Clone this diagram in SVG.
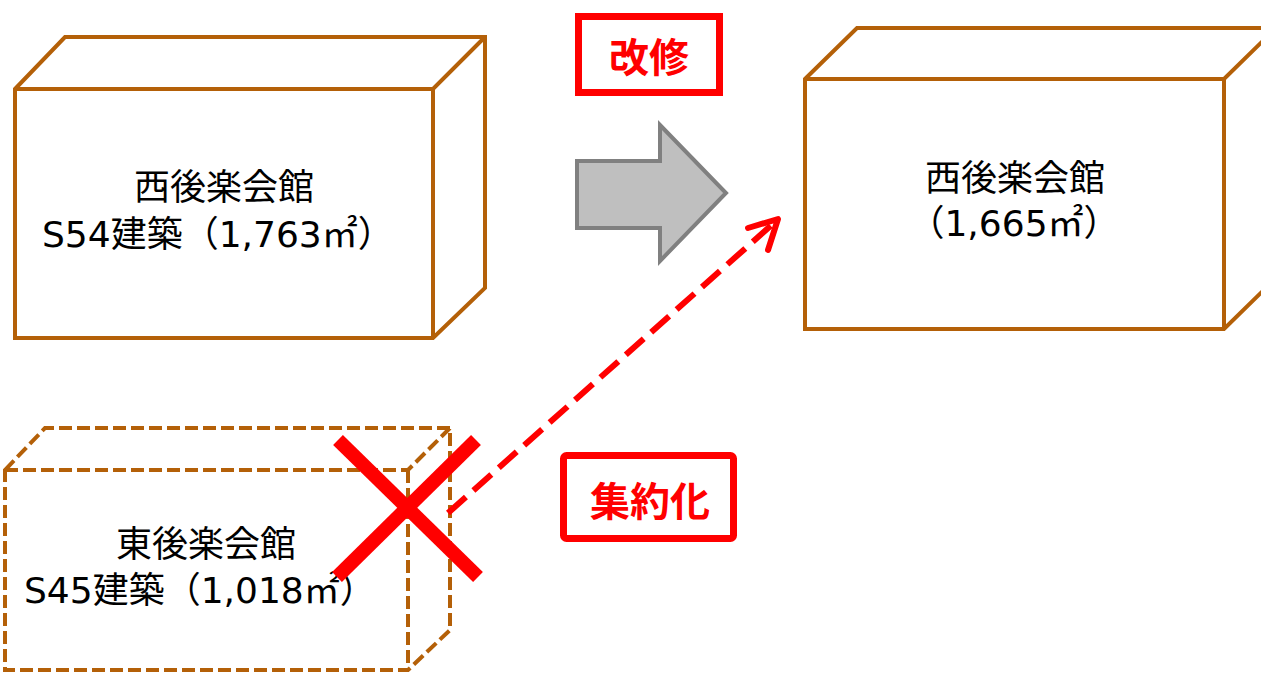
<svg xmlns="http://www.w3.org/2000/svg" width="1261" height="675" viewBox="0 0 1261 675">
<style>
.box{fill:#fff;stroke:#B46008;stroke-width:4;stroke-linejoin:miter}
.dbox{fill:none;stroke:#B46008;stroke-width:4;stroke-dasharray:13 5}
.t{font-family:"DejaVu Sans","Noto Sans CJK JP",sans-serif;font-size:36px;fill:#000}
.lbl{fill:#fff;stroke:#FF0000;stroke-width:7}
.lt{font-family:"Noto Sans CJK JP","Noto Sans",sans-serif;font-size:40px;font-weight:bold;fill:#FF0000;text-anchor:middle}
</style>
<rect width="1261" height="675" fill="#fff"/>
<g id="west-old">
<path class="box" d="M15,89 L65,37 L485,37 L485,288 L433,338 L15,338 Z M15,89 L433,89 L485,37 M433,89 L433,338"/>
<text class="t" x="224" y="200" text-anchor="middle">西後楽会館</text>
<text class="t" x="42" y="247">S54建築（1,763㎡）</text>
</g>
<g id="west-new">
<path class="box" d="M805,79 L857,28 L1276,28 L1276,278 L1224,329 L805,329 Z M805,79 L1224,79 L1276,28 M1224,79 L1224,329"/>
<text class="t" x="1015" y="191" text-anchor="middle">西後楽会館</text>
<text class="t" x="1014" y="236" text-anchor="middle">（1,665㎡）</text>
</g>
<g id="east-old">
<path class="dbox" d="M5,470 L45,428 L450,428 L450,630 L408,670 L5,670 Z M5,470 L408,470 L450,428 M408,470 L408,670"/>
<text class="t" x="206" y="557" text-anchor="middle">東後楽会館</text>
<text class="t" x="24" y="603">S45建築（1,018㎡）</text>
</g>
<g id="label-kaishu">
<rect class="lbl" x="578.5" y="16.5" width="141" height="76"/>
<text class="lt" x="649" y="72">改修</text>
</g>
<g id="label-shuyaku">
<rect class="lbl" x="563.5" y="455.5" width="170" height="83" rx="3"/>
<text class="lt" x="650" y="516">集約化</text>
</g>
<g id="connectors">
<path d="M577,161 L660,161 L660,125 L726,193 L660,261 L660,228 L577,228 Z" fill="#BFBFBF" stroke="#808080" stroke-width="4"/>
<line x1="448" y1="513" x2="775" y2="222" stroke="#FF0000" stroke-width="6" stroke-dasharray="24 10"/>
<path d="M748,228 L778,219 L768,250" fill="none" stroke="#FF0000" stroke-width="6" stroke-linecap="round" stroke-linejoin="round"/>
</g>
<g id="cross">
<line x1="338" y1="440" x2="478" y2="577" stroke="#FF0000" stroke-width="14"/>
<line x1="476" y1="440" x2="337" y2="577" stroke="#FF0000" stroke-width="14"/>
</g>
</svg>
